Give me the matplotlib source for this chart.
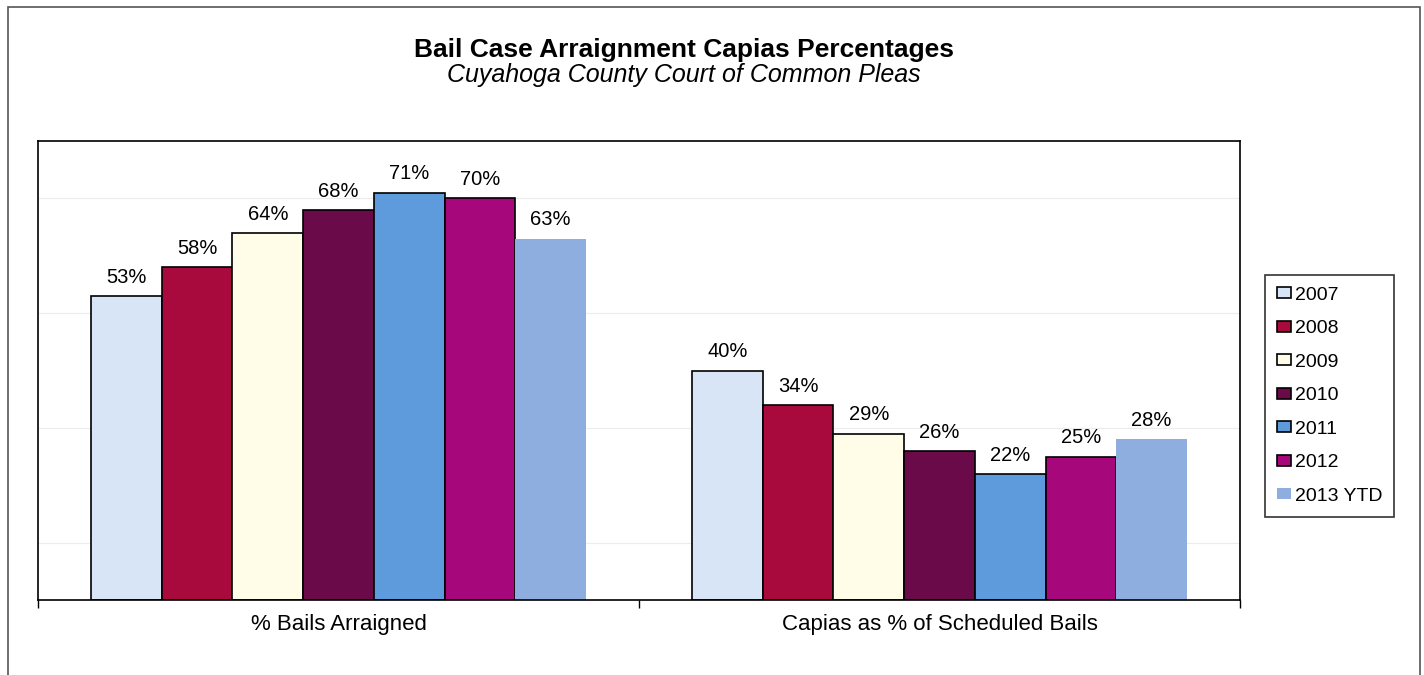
import matplotlib.pyplot as plt
import numpy as np
from matplotlib.patches import Rectangle

plt.rcParams["font.family"] = ["Liberation Sans", "DejaVu Sans"]

categories = ["% Bails Arraigned", "Capias as % of Scheduled Bails"]
years = ["2007", "2008", "2009", "2010", "2011", "2012", "2013 YTD"]
values = {
    "2007": [53, 40],
    "2008": [58, 34],
    "2009": [64, 29],
    "2010": [68, 26],
    "2011": [71, 22],
    "2012": [70, 25],
    "2013 YTD": [63, 28],
}
colors = ["#D8E5F6", "#A80A3E", "#FFFCE8", "#6A0A48", "#5E9BDC", "#A6087C", "#8EAEE0"]
edges = ["black"] * 6 + ["none"]

fig = plt.figure(figsize=(14.24, 6.75), dpi=100)
# outer chart frame
fig.patches.append(Rectangle((8 / 1424, -0.01), 1412 / 1424, 1 - 7 / 675 + 0.01,
                             transform=fig.transFigure, fill=False,
                             edgecolor="#555555", linewidth=1.2))

ax = fig.add_axes([38 / 1424, 75 / 675, 1202 / 1424, 459 / 675])
x = np.arange(len(categories))
w = 1 / 8.5
for i, yr in enumerate(years):
    pos = x + (i - 3) * w
    bars = ax.bar(pos, values[yr], w, color=colors[i], edgecolor=edges[i],
                  linewidth=1.2, label=yr, zorder=2)
    for b, v in zip(bars, values[yr]):
        ax.text(b.get_x() + b.get_width() / 2, v + 1.6, f"{v}%",
                ha="center", va="bottom", fontsize=14.5)

ax.set_xlim(-0.5, 1.5)
ax.set_ylim(0, 80)
ax.set_yticks([10, 30, 50, 70])
ax.yaxis.grid(True, color="#ECECEC", linewidth=0.8, zorder=0)
ax.tick_params(axis="y", left=False, labelleft=False)
ax.set_xticks([-0.5, 0.5, 1.5])
ax.set_xticklabels(["", "", ""])
ax.tick_params(axis="x", length=6, direction="out", width=1)
for c, lab in zip(x, categories):
    ax.text(c, -2.4, lab, ha="center", va="top", fontsize=16)
for s in ax.spines.values():
    s.set_linewidth(1.2)

fig.text(0.48, 1 - 50 / 675, "Bail Case Arraignment Capias Percentages",
         ha="center", va="center", fontsize=19, fontweight="bold")
fig.text(0.48, 1 - 75 / 675, "Cuyahoga County Court of Common Pleas",
         ha="center", va="center", fontsize=18, style="italic")

leg = fig.legend(*ax.get_legend_handles_labels(), loc="upper left",
                 bbox_to_anchor=(1265 / 1424, 1 - 275 / 675),
                 fontsize=14, frameon=True, fancybox=False, edgecolor="black",
                 handlelength=0.75, handleheight=0.5, handletextpad=0.2,
                 labelspacing=0.85, borderpad=0.6, borderaxespad=0)
leg.get_frame().set_linewidth(1.2)

fig.savefig("out.png", dpi=100)
